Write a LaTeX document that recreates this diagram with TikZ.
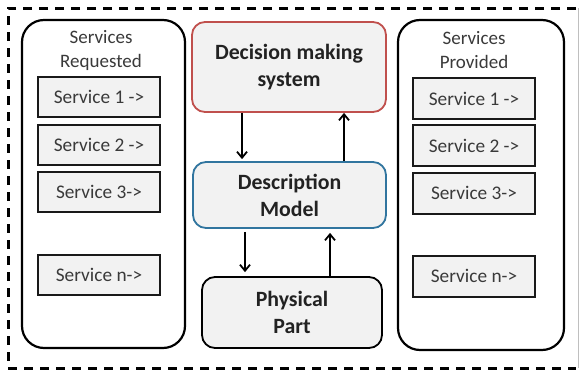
\documentclass[tikz,border=0pt]{standalone}
\usepackage{fontspec}
\setmainfont{Carlito}
\usetikzlibrary{arrows.meta}
\definecolor{txtgray}{HTML}{3A3A3A}
\definecolor{txtdark}{HTML}{222222}
\definecolor{boxfill}{HTML}{F2F2F2}
\definecolor{redline}{HTML}{C0504D}
\definecolor{blueline}{HTML}{31759F}
\begin{document}
\begin{tikzpicture}[x=1pt,y=-1pt,
  bigbox/.style={draw=black, line width=2.2pt, rounded corners=22pt, fill=white, inner sep=0pt},
  svcbox/.style={draw=black!90, line width=2pt, fill=boxfill, minimum width=122pt, minimum height=40pt, inner sep=0pt,
     font=\fontsize{19.3}{22}\selectfont, text=txtgray},
  title/.style={align=center, font=\fontsize{19}{24}\selectfont, text=txtgray, inner sep=0pt},
  midbox/.style={line width=1.8pt, rounded corners=13pt, fill=boxfill, inner sep=0pt, align=center,
     font=\fontsize{21.8}{27}\selectfont\bfseries, text=txtdark},
  arr/.style={line width=1.8pt, -{Straight Barb[length=6pt,width=10pt,line width=1.8pt]}},
  frame/.style={line width=3pt, dash pattern=on 9pt off 7pt}
]
\useasboundingbox (0,0) rectangle (581,375);
% outer dashed frame
\coordinate (f1) at (8,8);
\coordinate (f2) at (576,8);
\coordinate (f3) at (8,368);
\coordinate (f4) at (576,368);
\draw[frame] (f2) -- (f1) -- (f3) -- (f4);
\draw[black!25, line width=0.8pt] (578,8) -- (578,368);

% left column
\node[bigbox, minimum width=163pt, minimum height=328pt] (L) at (103.5,184) {};
\node[title] (Lt) at (101,50) {Services\\Requested};
\node[svcbox] (L1) at (99,97) {Service 1 ->};
\node[svcbox] (L2) at (99,144.5) {Service 2 ->};
\node[svcbox] (L3) at (99,191.5) {Service 3->};
\node[svcbox] (Ln) at (99,275) {Service n->};

% right column
\node[bigbox, minimum width=166pt, minimum height=330pt] (R) at (481,185) {};
\node[title] (Rt) at (474,50) {Services\\Provided};
\node[svcbox, minimum height=41pt] (R1) at (474,98.5) {Service 1 ->};
\node[svcbox, minimum height=41pt] (R2) at (474,145.5) {Service 2 ->};
\node[svcbox, minimum height=41pt] (R3) at (474,193) {Service 3->};
\node[svcbox, minimum height=41pt] (Rn) at (474,276) {Service n->};

% middle column
\node[midbox, draw=redline, minimum width=194pt, minimum height=90pt] (dm) at (289,67) {Decision making\\system};
\node[midbox, draw=blueline, minimum width=193pt, minimum height=66pt] (desc) at (289.5,195) {Description\\Model};
\node[midbox, draw=black, minimum width=180pt, minimum height=71pt] (phys) at (292,312.5) {Physical\\Part};

% arrows
\coordinate (a1) at (242,0);
\coordinate (a2) at (344,0);
\coordinate (a3) at (245,0);
\coordinate (a4) at (330,0);
\draw[arr, shorten >=2pt] (dm.south -| a1) -- (desc.north -| a1);
\draw[arr] (desc.north -| a2) -- (dm.south -| a2);
\draw[arr, shorten >=4pt, shorten <=3pt] (desc.south -| a3) -- (phys.north -| a3);
\draw[arr, shorten >=4pt] (phys.north -| a4) -- (desc.south -| a4);
\end{tikzpicture}
\end{document}
